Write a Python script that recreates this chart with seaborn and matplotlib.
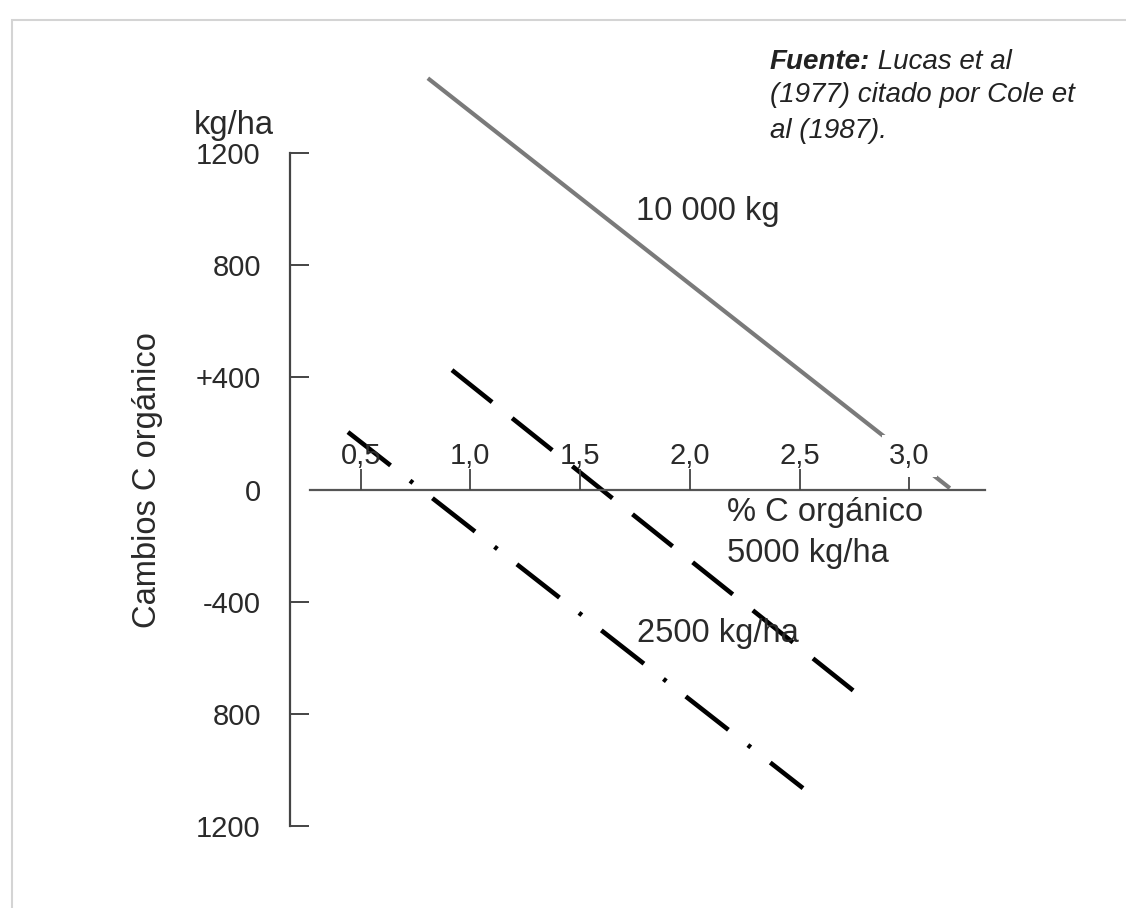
import matplotlib
matplotlib.use("Agg")
import matplotlib.pyplot as plt
import seaborn as sns
from matplotlib.patches import Rectangle

# ---- data ----
x_10000 = [0.806, 3.184]
y_10000 = [1467, 5]
x_5000 = [0.916, 2.752]
y_5000 = [426, -722]
x_2500 = [0.442, 2.515]
y_2500 = [205, -1065]

xticks = [0.5, 1.0, 1.5, 2.0, 2.5, 3.0]
xticklabels = ["0,5", "1,0", "1,5", "2,0", "2,5", "3,0"]
yticks = [1200, 800, 400, 0, -400, -800, -1200]
yticklabels = ["1200", "800", "+400", "0", "-400", "800", "1200"]

sns.set_theme(style="white")
plt.rcParams['font.family'] = ['Liberation Sans', 'DejaVu Sans']

TXT = '#2a2a2a'
FS = 21      # tick labels
FA = 23.5    # annotations / axis label

fig = plt.figure(figsize=(11.26, 9.08), dpi=100)
ax = fig.add_axes([0.25755, 0.02852, 0.6476, 0.9264])
ax.set_facecolor('none')

sns.lineplot(x=x_10000, y=y_10000, ax=ax, color='#7a7a7a', linewidth=3.0,
             solid_capstyle='butt')
sns.lineplot(x=x_5000, y=y_5000, ax=ax, color='black', linewidth=3.3,
             linestyle=(0, (11.2, 5.6)), dash_capstyle='butt')
sns.lineplot(x=x_2500, y=y_2500, ax=ax, color='black', linewidth=3.3,
             linestyle=(0, (11.8, 5.4, 0.8, 5.4)), dash_capstyle='butt')

ax.set_xlim(0.178, 3.5)
ax.set_ylim(-1400, 1600)
ax.set_xticks(xticks, xticklabels)
ax.set_yticks(yticks, yticklabels)
ax.set_axisbelow(False)

for s in ['top', 'right']:
    ax.spines[s].set_visible(False)
ax.spines['left'].set_bounds(-1200, 1200)
ax.spines['left'].set_color('#444444')
ax.spines['left'].set_linewidth(1.6)
ax.spines['bottom'].set_position(('data', 0))
ax.spines['bottom'].set_bounds(0.269, 3.344)
ax.spines['bottom'].set_color('#555555')
ax.spines['bottom'].set_linewidth(1.6)

ax.tick_params(axis='y', left=True, direction='in', length=14, width=1.4, pad=21,
               labelsize=FS, color='#444444', labelcolor=TXT)
ax.tick_params(axis='x', bottom=True, direction='in', length=15, width=1.3, pad=-34,
               labelsize=FS, color='#444444', labelcolor=TXT)

for t, v in zip(ax.yaxis.get_major_ticks(), yticks):
    if abs(v) == 400:
        t.tick1line.set_color('#9a9a9a')
    if v == 0:
        t.tick1line.set_visible(False)

ax.get_xticklabels()[5].set_bbox(dict(facecolor='white', edgecolor='none', pad=5))

ax.set_ylabel("Cambios C orgánico", fontsize=FA, color=TXT)
ax.yaxis.set_label_coords(-0.174, 0.4775)

ax.text(1.755, 991, "10 000 kg", ha='left', va='center', fontsize=FA, color=TXT)
ax.text(2.17, -83, "% C orgánico", ha='left', va='center', fontsize=FA, color=TXT)
ax.text(2.17, -227, "5000 kg/ha", ha='left', va='center', fontsize=FA, color=TXT)
ax.text(1.76, -515, "2500 kg/ha", ha='left', va='center', fontsize=FA, color=TXT)
ax.text(-0.077, 1300, "kg/ha", ha='center', va='center', fontsize=FA, color=TXT)

# source note
t1 = fig.text(770 / 1126, 1 - 49 / 908, "Fuente:", fontsize=20, style='italic',
              weight='bold', va='top', ha='left', color='#222222')
ax.annotate(" Lucas et al", xy=(1, 1), xycoords=t1, va='top', ha='left',
            fontsize=20, style='italic', color='#222222', annotation_clip=False)
fig.text(770 / 1126, 1 - 82 / 908, "(1977) citado por Cole et\nal (1987).",
         fontsize=20, style='italic', va='top', ha='left', color='#222222',
         linespacing=1.48)

# light frame
fig.add_artist(Rectangle((12 / 1126, -0.05), 1.1, 1 - 20 / 908 + 0.05,
                         transform=fig.transFigure, fill=False,
                         edgecolor='#d4d4d4', lw=1.5))

fig.savefig('out.png', dpi=100, facecolor='white')
